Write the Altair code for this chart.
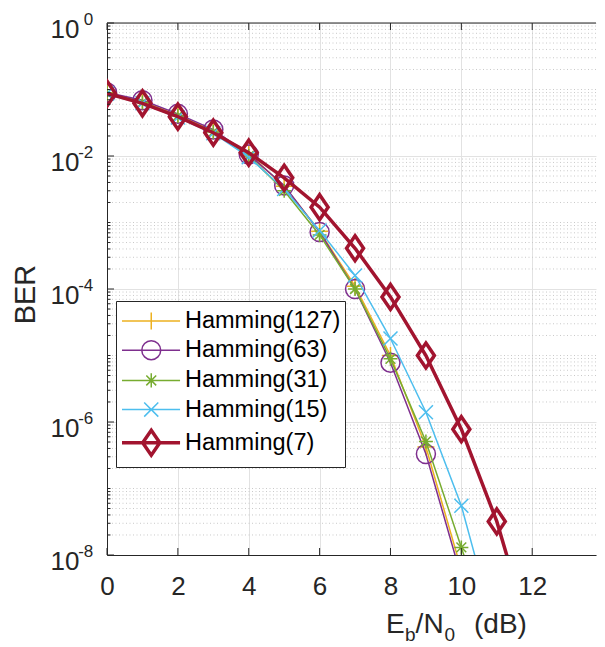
import altair as alt
import pandas as pd

# ---------------- data ----------------
ebn0 = [0, 1, 2, 3, 4, 5, 6, 7, 8, 9, 10, 11, 12]
series_names = ["Hamming(127)", "Hamming(63)", "Hamming(31)", "Hamming(15)", "Hamming(7)"]
ber_127 = [0.089, 0.066, 0.041, 0.024, 0.0108, 3.5e-3, 7.4e-4, 1.1e-4, 1.0e-5, 4.2e-7, 6e-9]
ber_63 = [0.090, 0.069, 0.043, 0.025, 0.0105, 3.6e-3, 7.2e-4, 1.0e-4, 7.8e-6, 3.3e-7, 4.7e-9]
ber_31 = [0.088, 0.064, 0.040, 0.023, 0.0100, 3.0e-3, 6.5e-4, 1.0e-4, 8.9e-6, 5.1e-7, 1.3e-8, 3e-10]
ber_15 = [0.087, 0.062, 0.038, 0.022, 0.0096, 3.2e-3, 7.6e-4, 1.6e-4, 1.8e-5, 1.4e-6, 5.5e-8, 6e-10]
ber_7 = [0.087, 0.062, 0.039, 0.0224, 0.0112, 4.7e-3, 1.7e-3, 4.1e-4, 7.6e-5, 1.0e-5, 7.8e-7, 3.2e-8, 5e-10]
colors = ["#EDB120", "#7E2F8E", "#77AC30", "#4DBEEE", "#A2142F"]

x_ticks = [0, 2, 4, 6, 8, 10, 12]
y_major = [1, 1e-2, 1e-4, 1e-6, 1e-8]
y_sup = ["0", "-2", "-4", "-6", "-8"]
y_minor = [m * 10.0 ** k for k in range(-8, 0) for m in range(1, 10)
           if not (m == 1 and k % 2 == 0)]

# ---------------- style ----------------
FONT = "Liberation Sans"
AX = "#262626"
W, H = 489, 532

plot_paths = [
    "M-1,0L1,0M0,-1L0,1",
    "circle",
    "M-1,0L1,0M0,-1L0,1M-0.7,-0.7L0.7,0.7M-0.7,0.7L0.7,-0.7",
    "M-1,-1L1,1M-1,1L1,-1",
    "M0,-1L0.68,0L0,1L-0.68,0Z",
]
plot_sizes = [289, 361, 196, 196, 625]
stroke_w = [1.5, 1.5, 1.5, 1.5, 3.5]

# legend glyphs: unit = 15 px (symbolSize 900), line through the marker
LINE = "M-1,0L2.87,0"
legend_paths = [
    LINE + "M0.38,0L1.52,0M0.95,-0.57L0.95,0.57",
    LINE + "M1.58,0A0.63,0.63,0,1,1,0.32,0A0.63,0.63,0,1,1,1.58,0",
    LINE + "M0.48,0L1.42,0M0.95,-0.47L0.95,0.47M0.62,-0.33L1.28,0.33M0.62,0.33L1.28,-0.33",
    LINE + "M0.48,-0.47L1.42,0.47M0.48,0.47L1.42,-0.47",
    LINE + "M0.95,-0.83L1.52,0L0.95,0.83L0.38,0Z",
]

xs = alt.Scale(domain=[0, 13.8], nice=False, zero=False)
ys = alt.Scale(type="log", domain=[1e-8, 1], nice=False)

x_axis = alt.Axis(values=x_ticks, grid=True, gridColor="#e2e2e2", gridWidth=1,
                  domainColor=AX, domainWidth=1, ticks=False,
                  labelFont=FONT, labelFontSize=26, labelColor=AX,
                  labelPadding=39, labelBaseline="alphabetic",
                  labelFlush=False, labelOverlap=False, title=None)
y_axis = alt.Axis(values=y_major, grid=True, gridColor="#e2e2e2", gridWidth=1,
                  domainColor=AX, domainWidth=1, ticks=False,
                  labelExpr="'10'", labelFont=FONT, labelFontSize=26, labelColor=AX,
                  labelBaseline="alphabetic", labelOffset=14, labelAlign="right",
                  labelPadding=28, labelOverlap=False, labelFlush=False,
                  title="BER", titleFont=FONT, titleFontSize=29, titleFontWeight="normal",
                  titleColor=AX, titleX=-73, titleY=271, titleAngle=270,
                  titleAlign="center", titleBaseline="alphabetic")


def X(field):
    return alt.X(field, scale=xs, axis=x_axis)


def Y(field):
    return alt.Y(field, scale=ys, axis=y_axis)


layers = []

# minor grid (dotted)
df_minor = pd.DataFrame({"v": y_minor})
layers.append(alt.Chart(df_minor).mark_rule(color="#c9c9c9", strokeDash=[1, 2.5], strokeWidth=1)
              .encode(y=Y("v:Q")))

# data
all_ber = [ber_127, ber_63, ber_31, ber_15, ber_7]
for i, (name, vals) in enumerate(zip(series_names, all_ber)):
    df_s = pd.DataFrame({"x": ebn0[:len(vals)], "ber": vals, "series": name})
    layers.append(alt.Chart(df_s).mark_line(clip=True, strokeWidth=stroke_w[i], color=colors[i])
                  .encode(x=X("x:Q"), y=Y("ber:Q")))
    layers.append(alt.Chart(df_s).mark_point(shape=plot_paths[i], size=plot_sizes[i], filled=False,
                                             color=colors[i], strokeWidth=stroke_w[i], opacity=1, clip=True)
                  .encode(x=X("x:Q"), y=Y("ber:Q")))

# inward ticks
df_major = pd.DataFrame({"v": y_major})
layers.append(alt.Chart(df_major).mark_rule(color=AX, strokeWidth=1)
              .encode(y=Y("v:Q"), x=alt.value(0), x2=alt.value(7)))
layers.append(alt.Chart(df_minor).mark_rule(color=AX, strokeWidth=1)
              .encode(y=Y("v:Q"), x=alt.value(0), x2=alt.value(3.5)))
df_xt = pd.DataFrame({"v": x_ticks})
layers.append(alt.Chart(df_xt).mark_rule(color=AX, strokeWidth=1)
              .encode(x=X("v:Q"), y=alt.value(H), y2=alt.value(H - 7)))
layers.append(alt.Chart(df_xt).mark_rule(color=AX, strokeWidth=1)
              .encode(x=X("v:Q"), y=alt.value(0), y2=alt.value(7)))
# top border
layers.append(alt.Chart(pd.DataFrame({"k": [0]})).mark_rule(color=AX, strokeWidth=1)
              .encode(x=alt.value(0), x2=alt.value(W), y=alt.value(0)))

# superscripts of y tick labels
df_sup = pd.DataFrame({"v": y_major, "s": y_sup})
layers.append(alt.Chart(df_sup).mark_text(align="right", baseline="alphabetic", font=FONT,
                                          fontSize=17, color=AX, dy=2)
              .encode(y=Y("v:Q"), x=alt.value(-13.7), text="s:N"))

# x-axis title E_b/N_0 (dB)
title_parts = [("E", 28, 279.1, 610), ("b", 19, 297.9, 618), ("/N", 28, 308.6, 610),
               ("0", 19, 337.5, 618), ("(dB)", 28, 367.0, 610)]
for txt, fs, px, py in title_parts:
    layers.append(alt.Chart(pd.DataFrame({"t": [txt]})).mark_text(
        align="left", baseline="alphabetic", font=FONT, fontSize=fs, color=AX)
        .encode(x=alt.value(px), y=alt.value(py), text="t:N"))

# legend layer (no rows drawn; legend from explicit scales)
leg = alt.Legend(orient="none", legendX=9, legendY=278, fillColor="white", strokeColor=AX,
                 padding=4, rowPadding=1.2, symbolSize=900,
                 labelFont=FONT, labelFontSize=23.5,
                 labelColor="black", labelOffset=31, labelLimit=300, title=None)
df_leg = pd.DataFrame({"series": series_names})
layers.append(alt.Chart(df_leg).transform_filter("false").mark_point(filled=False, size=900, opacity=1)
              .encode(stroke=alt.Stroke("series:N", scale=alt.Scale(domain=series_names, range=colors), legend=leg),
                      shape=alt.Shape("series:N", scale=alt.Scale(domain=series_names, range=legend_paths), legend=leg),
                      strokeWidth=alt.StrokeWidth("series:N", scale=alt.Scale(type="ordinal", domain=series_names, range=stroke_w), legend=leg)))

chart = alt.layer(*layers).properties(
    width=W, height=H,
    autosize=alt.AutoSizeParams(type="none"),
    padding={"left": 99, "top": 15, "right": 1, "bottom": 92},
).configure_view(stroke="transparent")

chart.save("out.html", embed_options={"renderer": "svg", "actions": False})
